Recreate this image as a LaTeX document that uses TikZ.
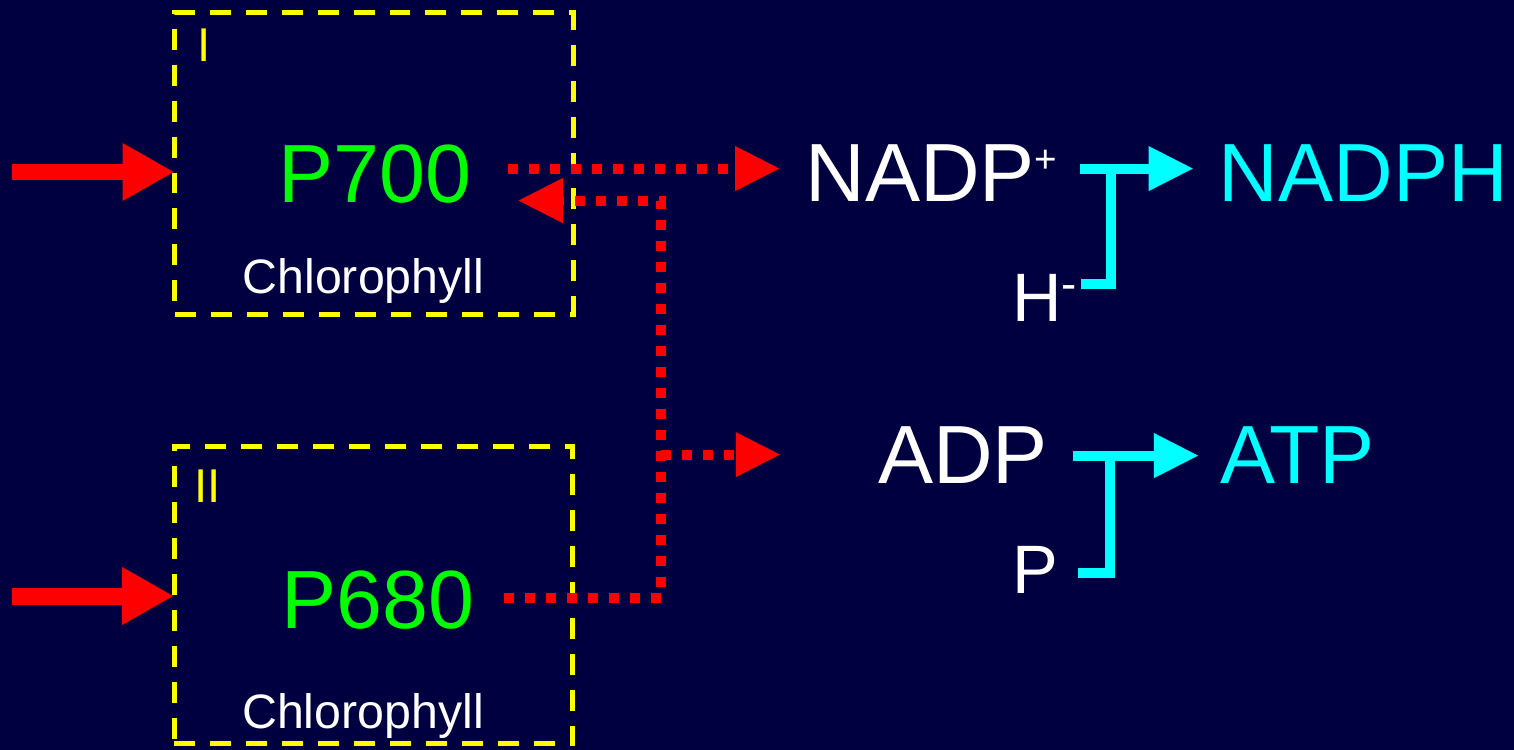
\documentclass[tikz,border=0pt]{standalone}
\usepackage{fontspec}
\setmainfont{Liberation Sans}
\usetikzlibrary{positioning}
\usetikzlibrary{arrows.meta}
\usetikzlibrary{calc}
\definecolor{navybg}{RGB}{0,0,64}
\definecolor{boxyellow}{RGB}{255,255,0}
\definecolor{prodcyan}{RGB}{0,255,255}
\definecolor{pigmentgreen}{RGB}{0,255,0}
\definecolor{flowred}{RGB}{255,0,0}

\begin{document}
\begin{tikzpicture}[x=0.02cm, y=-0.02cm,
                          psbox/.style={rectangle, draw=boxyellow, line width=0.1cm, dash pattern=on 0.42cm off 0.3cm, minimum width=7.98cm, minimum height=6.04cm, inner sep=0},
                          pigment/.style={text=pigmentgreen, font=\fontsize{47}{50}\selectfont, inner sep=0, anchor=base},
                          molecule/.style={text=white, font=\fontsize{47}{50}\selectfont, inner sep=0, anchor=base},
                          product/.style={text=prodcyan, font=\fontsize{47}{50}\selectfont, inner sep=0, anchor=base},
                          addend/.style={text=white, font=\fontsize{39}{42}\selectfont, inner sep=0, anchor=base},
                          chlabel/.style={text=white, font=\fontsize{27.5}{30}\selectfont, inner sep=0, anchor=base},
                          pslabel/.style={text=boxyellow, font=\fontsize{27}{30}\selectfont, inner sep=0, anchor=base},
                          light/.style={draw=flowred, line width=0.34cm, -{Triangle[length=1.04cm, width=1.08cm]}},
                          electron/.style={draw=flowred, line width=0.2cm, dash pattern=on 0.2cm off 0.22cm, -{Triangle[length=0.9cm, width=0.84cm]}},
                          reaction/.style={draw=prodcyan, line width=0.2cm, -{Triangle[length=0.9cm, width=0.84cm]}},
                          joinline/.style={draw=prodcyan, line width=0.2cm},
                      ]
                      % Background
                      \fill[navybg] (0,0) rectangle (1514,750);
                      \useasboundingbox (0,0) rectangle (1514,750);

                      % Nodes
                      \node[psbox]                   (ps_1)      at (374,163.5)     {};
                      \node[psbox, minimum height=5.96cm] (ps_2) at (373.5,595)   {};
                      \node[pslabel]                 (ps_1_num)  at (204,62)        {I};
                      \node[pslabel]                 (ps_2_num)  at (207.5,502)     {II};
                      \node[pigment]                 (p700)      at (375,202)       {P700};
                      \node[pigment]                 (p680)      at (378,628)       {P680};
                      \node[chlabel]                 (chl_1)     at (363.5,293)     {Chlorophyll};
                      \node[chlabel]                 (chl_2)     at (363,728)       {Chlorophyll};

                      \node[molecule]                (nadp)      at (931.5,201)     {NADP\raisebox{16pt}{\fontsize{22}{22}\selectfont +}};
                      \node[product]                 (nadph)     at (1363.5,201)    {NADPH};
                      \node[addend]                  (hydride)   at (1044.5,321)    {H\raisebox{12pt}{\fontsize{26}{26}\selectfont -}};
                      \node[molecule]                (adp)       at (963,483)       {ADP};
                      \node[product]                 (atp)       at (1297.5,483)    {ATP};
                      \node[addend]                  (phos)      at (1035,593)      {P};

                      \coordinate (sun_1) at (12,172);
                      \coordinate (sun_2) at (12,596);
                      \coordinate (e_out) at ([shift={(36,-5)}]p700.east);
                      \coordinate (e_in)  at ([shift={(29,-2)}]p680.east);
                      \coordinate (r_1)   at ([shift={(22,-4)}]nadp.east);
                      \coordinate (r_2)   at ([shift={(25,1)}]adp.east);

                      % Lines
                      \draw[light] (sun_1) -- ([xshift=0.05cm]sun_1 -| ps_1.west);
                      \draw[light] (sun_2) -- ([xshift=0.05cm]sun_2 -| ps_2.west);
                      \draw[electron, shorten >=0.5cm] (e_out) -- (e_out -| nadp.west);
                      \draw[electron] (e_in) -- ++(157,0) coordinate (e_bend) |- ($(e_out)+(10,32)$);
                      \draw[electron] (e_bend |- adp.west) -- ++(120,0);
                      \draw[reaction, shorten >=0.5cm] (r_1) -- (r_1 -| nadph.west);
                      \draw[joinline] ([shift={(4,-13.5)}]hydride.east) -| ($(r_1)+(31,0)$);
                      \draw[reaction, shorten >=0.42cm] (r_2) -- (r_2 -| atp.west);
                      \draw[joinline] ([shift={(20,3.5)}]phos.east) -| ($(r_2)+(37,0)$);
                  \end{tikzpicture}
\end{document}
